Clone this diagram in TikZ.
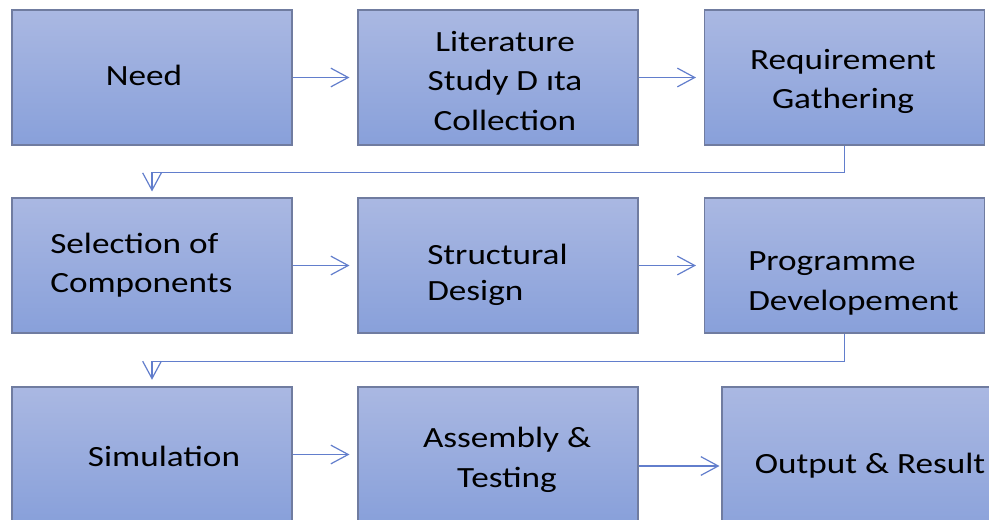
\documentclass[tikz,border=0pt]{standalone}
\usepackage{fontspec}
\setmainfont{Carlito}[FakeStretch=1.2]
\usetikzlibrary{arrows.meta}
\definecolor{boxtop}{RGB}{170,184,226}
\definecolor{boxbot}{RGB}{136,160,218}
\definecolor{boxline}{RGB}{112,124,160}
\definecolor{flow}{RGB}{98,126,204}
\begin{document}
\begin{tikzpicture}[x=0.75pt,y=-0.75pt,
  box/.style={draw=boxline, line width=0.8pt, top color=boxtop, bottom color=boxbot, minimum width=210pt, minimum height=101.25pt, inner sep=0pt},
  lbl/.style={font=\fontsize{22}{29.5}\selectfont, inner sep=0pt},
  flowline/.style={draw=flow, line width=0.9pt, -{Straight Barb[length=13pt,width=14pt]}}]
\useasboundingbox (0,0) rectangle (989,520);
\clip (0,0) rectangle (989,520);
\node[box] (need) at (152,77.5) {};
\node[box] (lit) at (498,77.5) {};
\node[box] (req) at (844.5,77.5) {};
\node[box] (sel) at (152,265.5) {};
\node[box] (struct) at (498,265.5) {};
\node[box] (prog) at (844.5,265.5) {};
\node[box] (sim) at (152,454.5) {};
\node[box] (asm) at (498,454.5) {};
\node[box, minimum width=216pt, minimum height=118.5pt] (out) at (866,466) {};
\node[lbl] (needtxt) at (144,75) {Need};
\node[lbl, align=center] (littxt) at (505,81) {Literature\\Study D ıta\\Collection};
\node[lbl, align=center] (reqtxt) at (843,81.5) {Requirement\\Gathering};
\node[lbl, align=left, anchor=west] (seltxt) at (50,265.5) {Selection of\\Components};
\node[lbl, align=left, anchor=west, font=\fontsize{22}{27.5}\selectfont] (structtxt) at (427,275) {Structural\\Design};
\node[lbl, align=left, anchor=west] (progtxt) at (748,283.5) {Programme\\Developement};
\node[lbl] (simtxt) at (164,456) {Simulation};
\node[lbl, align=center] (asmtxt) at (507,460) {Assembly \&\\Testing};
\node[lbl] (outtxt) at (870,466) {Output \& Result};
\path[flowline, shorten >=6pt] (need) -- (lit);
\path[flowline, shorten >=6pt] (lit) -- (req);
\path[flowline, shorten >=4.5pt] (req.south) -- ++(0,27) -| (sel.north);
\path[flowline, shorten >=6pt] (sel) -- (struct);
\path[flowline, shorten >=6pt] (struct) -- (prog);
\path[flowline, shorten >=5pt] (prog.south) -- ++(0,28) -| (sim.north);
\path[flowline, shorten >=6pt] (sim) -- (asm);
\path[flowline, shorten >=1.5pt] (asm.east |- out.west) -- (out.west);
\end{tikzpicture}
\end{document}
